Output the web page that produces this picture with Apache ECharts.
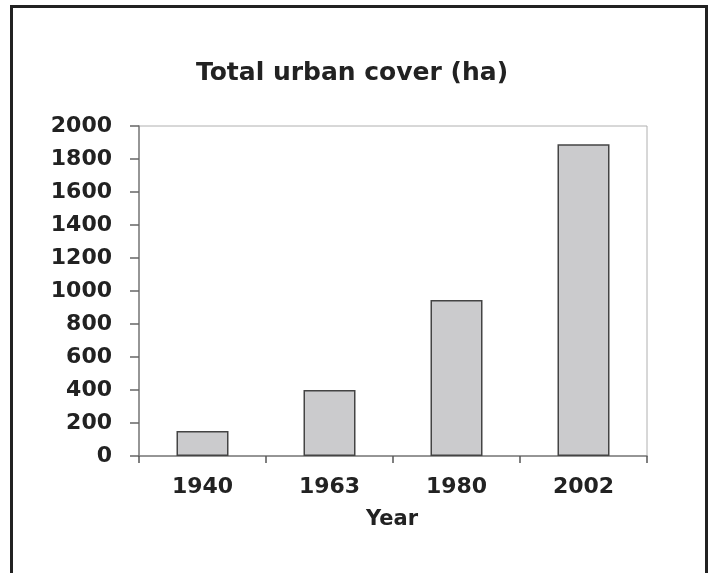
<!DOCTYPE html>
<html>
<head>
<meta charset="utf-8">
<script src="https://cdn.jsdelivr.net/npm/echarts@6/dist/echarts.min.js"></script>
<style>html,body{margin:0;padding:0;background:#fff}#c{width:710px;height:573px}</style>
</head>
<body>
<div id="c"></div>
<script>
const years = ['1940', '1963', '1980', '2002'];
const urbanCover = [152, 400, 945, 1890];
const titleText = 'Total urban cover (ha)';
const xName = 'Year';

const chart = echarts.init(document.getElementById('c'), null, {renderer: 'canvas'});
const font = 'DejaVu Sans';
chart.setOption({
  animation: false,
  backgroundColor: '#ffffff',
  title: {
    text: titleText,
    left: 347, top: 56, textAlign: 'center',
    textStyle: {fontFamily: font, fontWeight: 'bold', fontSize: 25, color: '#222'}
  },
  graphic: [
    {type: 'rect', z: 100, silent: true,
     shape: {x: 11.5, y: 6.5, width: 695, height: 600},
     style: {fill: 'none', stroke: '#222', lineWidth: 3}},
    {type: 'text', z: 100, x: 392, y: 520,
     style: {text: xName, font: 'bold 21px "DejaVu Sans"', fill: '#222',
             align: 'center', verticalAlign: 'middle'}}
  ],
  grid: {left: 139, right: 63, top: 126, bottom: 117, show: true,
         borderColor: '#b0b0b0', borderWidth: 1, backgroundColor: 'transparent'},
  xAxis: {
    type: 'category', data: years,
    axisLine: {lineStyle: {color: '#808080', width: 1.5}},
    axisTick: {show: true, length: 7, lineStyle: {color: '#555', width: 1.5}},
    axisLabel: {margin: 20, fontFamily: font, fontWeight: 'bold', fontSize: 22, color: '#222'}
  },
  yAxis: {
    type: 'value', min: 0, max: 2000, interval: 200,
    axisLine: {show: true, lineStyle: {color: '#808080', width: 1.5}},
    axisTick: {show: true, length: 9, lineStyle: {color: '#666', width: 1.5}},
    splitLine: {show: false},
    axisLabel: {margin: 27, fontFamily: font, fontWeight: 'bold', fontSize: 22, color: '#222',
                formatter: function (v) { return String(v); }}
  },
  series: [{
    type: 'bar', data: urbanCover, barWidth: 52,
    itemStyle: {color: '#cbcbcd', borderColor: '#444', borderWidth: 1.5}
  }]
});
</script>
</body>
</html>
